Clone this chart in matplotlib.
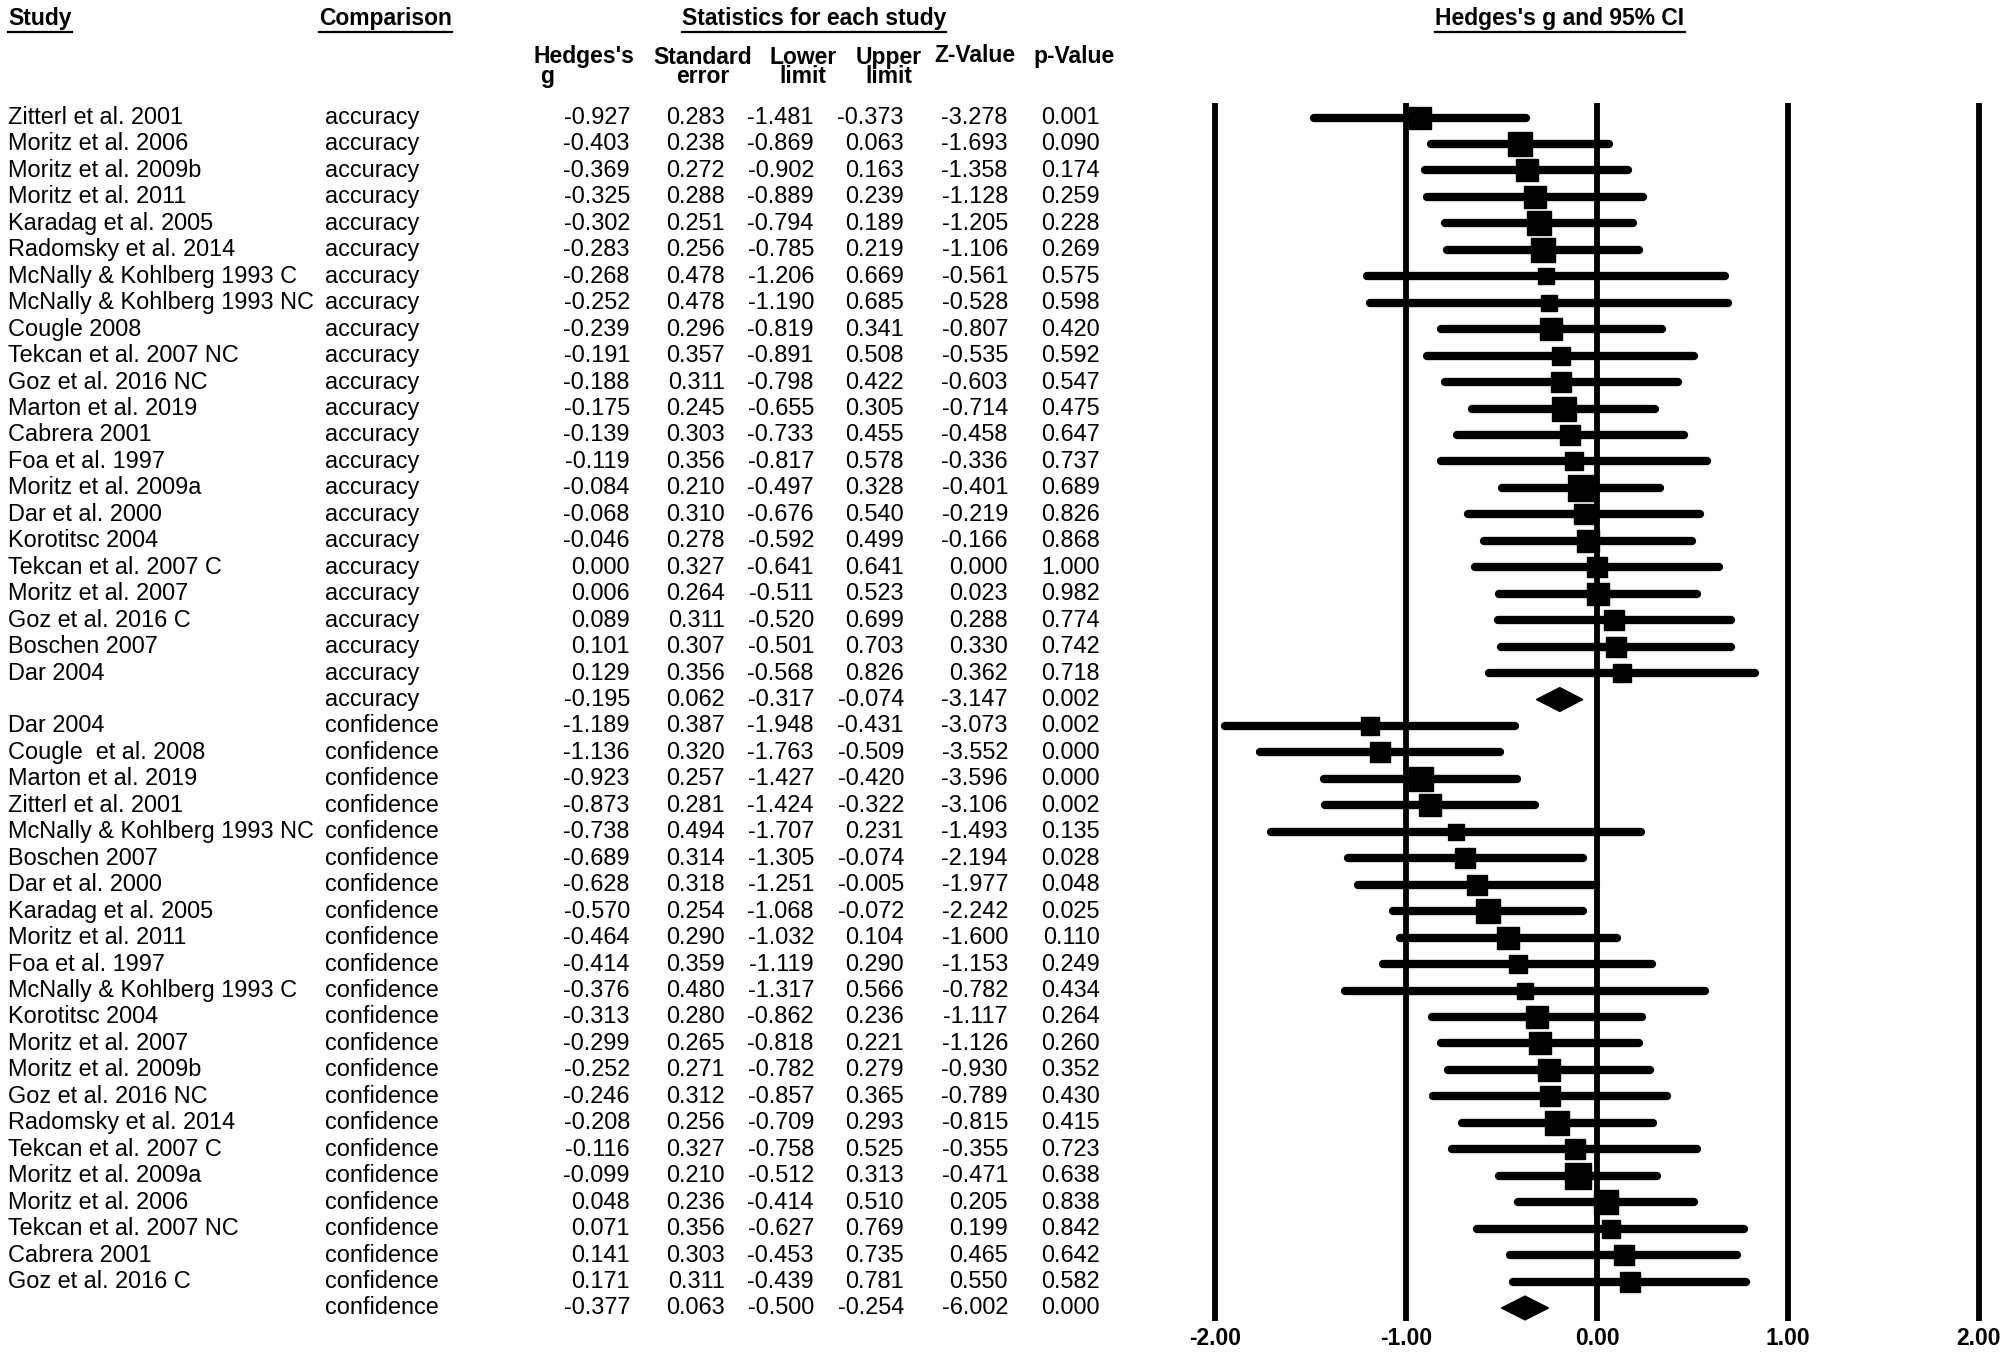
import matplotlib
matplotlib.use("Agg")
import matplotlib.pyplot as plt
from matplotlib import font_manager
from matplotlib.lines import Line2D
from matplotlib.patches import Polygon
from matplotlib.transforms import blended_transform_factory

# ---- data -------------------------------------------------------------
acc_studies = [
    "Zitterl et al. 2001", "Moritz et al. 2006", "Moritz et al. 2009b",
    "Moritz et al. 2011", "Karadag et al. 2005", "Radomsky et al. 2014",
    "McNally & Kohlberg 1993 C", "McNally & Kohlberg 1993 NC", "Cougle 2008",
    "Tekcan et al. 2007 NC", "Goz et al. 2016 NC", "Marton et al. 2019",
    "Cabrera 2001", "Foa et al. 1997", "Moritz et al. 2009a", "Dar et al. 2000",
    "Korotitsc 2004", "Tekcan et al. 2007 C", "Moritz et al. 2007",
    "Goz et al. 2016 C", "Boschen 2007", "Dar 2004",
]
acc_g = [-0.927, -0.403, -0.369, -0.325, -0.302, -0.283, -0.268, -0.252, -0.239,
         -0.191, -0.188, -0.175, -0.139, -0.119, -0.084, -0.068, -0.046, 0.000,
         0.006, 0.089, 0.101, 0.129]
acc_se = [0.283, 0.238, 0.272, 0.288, 0.251, 0.256, 0.478, 0.478, 0.296, 0.357,
          0.311, 0.245, 0.303, 0.356, 0.210, 0.310, 0.278, 0.327, 0.264, 0.311,
          0.307, 0.356]
acc_lo = [-1.481, -0.869, -0.902, -0.889, -0.794, -0.785, -1.206, -1.190, -0.819,
          -0.891, -0.798, -0.655, -0.733, -0.817, -0.497, -0.676, -0.592, -0.641,
          -0.511, -0.520, -0.501, -0.568]
acc_hi = [-0.373, 0.063, 0.163, 0.239, 0.189, 0.219, 0.669, 0.685, 0.341, 0.508,
          0.422, 0.305, 0.455, 0.578, 0.328, 0.540, 0.499, 0.641, 0.523, 0.699,
          0.703, 0.826]
acc_z = [-3.278, -1.693, -1.358, -1.128, -1.205, -1.106, -0.561, -0.528, -0.807,
         -0.535, -0.603, -0.714, -0.458, -0.336, -0.401, -0.219, -0.166, 0.000,
         0.023, 0.288, 0.330, 0.362]
acc_p = [0.001, 0.090, 0.174, 0.259, 0.228, 0.269, 0.575, 0.598, 0.420, 0.592,
         0.547, 0.475, 0.647, 0.737, 0.689, 0.826, 0.868, 1.000, 0.982, 0.774,
         0.742, 0.718]
acc_summary = [-0.195, 0.062, -0.317, -0.074, -3.147, 0.002]

conf_studies = [
    "Dar 2004", "Cougle  et al. 2008", "Marton et al. 2019", "Zitterl et al. 2001",
    "McNally & Kohlberg 1993 NC", "Boschen 2007", "Dar et al. 2000",
    "Karadag et al. 2005", "Moritz et al. 2011", "Foa et al. 1997",
    "McNally & Kohlberg 1993 C", "Korotitsc 2004", "Moritz et al. 2007",
    "Moritz et al. 2009b", "Goz et al. 2016 NC", "Radomsky et al. 2014",
    "Tekcan et al. 2007 C", "Moritz et al. 2009a", "Moritz et al. 2006",
    "Tekcan et al. 2007 NC", "Cabrera 2001", "Goz et al. 2016 C",
]
conf_g = [-1.189, -1.136, -0.923, -0.873, -0.738, -0.689, -0.628, -0.570, -0.464,
          -0.414, -0.376, -0.313, -0.299, -0.252, -0.246, -0.208, -0.116, -0.099,
          0.048, 0.071, 0.141, 0.171]
conf_se = [0.387, 0.320, 0.257, 0.281, 0.494, 0.314, 0.318, 0.254, 0.290, 0.359,
           0.480, 0.280, 0.265, 0.271, 0.312, 0.256, 0.327, 0.210, 0.236, 0.356,
           0.303, 0.311]
conf_lo = [-1.948, -1.763, -1.427, -1.424, -1.707, -1.305, -1.251, -1.068, -1.032,
           -1.119, -1.317, -0.862, -0.818, -0.782, -0.857, -0.709, -0.758, -0.512,
           -0.414, -0.627, -0.453, -0.439]
conf_hi = [-0.431, -0.509, -0.420, -0.322, 0.231, -0.074, -0.005, -0.072, 0.104,
           0.290, 0.566, 0.236, 0.221, 0.279, 0.365, 0.293, 0.525, 0.313, 0.510,
           0.769, 0.735, 0.781]
conf_z = [-3.073, -3.552, -3.596, -3.106, -1.493, -2.194, -1.977, -2.242, -1.600,
          -1.153, -0.782, -1.117, -1.126, -0.930, -0.789, -0.815, -0.355, -0.471,
          0.205, 0.199, 0.465, 0.550]
conf_p = [0.002, 0.000, 0.000, 0.002, 0.135, 0.028, 0.048, 0.025, 0.110, 0.249,
          0.434, 0.264, 0.260, 0.352, 0.430, 0.415, 0.723, 0.638, 0.838, 0.842,
          0.642, 0.582]
conf_summary = [-0.377, 0.063, -0.500, -0.254, -6.002, 0.000]

x_ticks = [-2.0, -1.0, 0.0, 1.0, 2.0]

# ---- fonts ------------------------------------------------------------
available = {f.name for f in font_manager.fontManager.ttflist}
BODY = "Liberation Sans" if "Liberation Sans" in available else "DejaVu Sans"
HEAD = "Liberation Sans Narrow" if "Liberation Sans Narrow" in available else BODY
BODY_SIZE = 16.9
HEAD_SIZE = 19 if HEAD != BODY else 16.5

W, H = 2008, 1355
fig = plt.figure(figsize=(W / 100, H / 100), dpi=100)


def fx(px):
    return px / W


def fy(py):
    return 1 - py / H


# forest axes: row 0 at y=117.5px, row 45 at y=1308px
row0_px = 117.5
row_px = (1308 - row0_px) / 45
ax_top = row0_px - row_px
ax_bot = row0_px + 46 * row_px
x0_px, unit_px = 1597, 191
xl, xr = -2.12, 2.12
ax = fig.add_axes([fx(x0_px + xl * unit_px), fy(ax_bot),
                   (xr - xl) * unit_px / W, (ax_bot - ax_top) / H])
ax.set_xlim(xl, xr)
ax.set_ylim(46.0, -1.0)
ax.axis("off")

ax.vlines(x_ticks, -0.55, 45.5, color="black", lw=4.2, zorder=1)
for t in x_ticks:
    ax.text(t, 46.15, f"{t:.2f}", ha="center", va="center", fontsize=HEAD_SIZE,
            family=HEAD, fontweight="bold", clip_on=False)

tr = blended_transform_factory(fig.transFigure, ax.transData)

rows = []
for i in range(len(acc_studies)):
    rows.append((acc_studies[i], "accuracy", acc_g[i], acc_se[i], acc_lo[i],
                 acc_hi[i], acc_z[i], acc_p[i], False))
rows.append(("", "accuracy", *acc_summary, True))
for i in range(len(conf_studies)):
    rows.append((conf_studies[i], "confidence", conf_g[i], conf_se[i], conf_lo[i],
                 conf_hi[i], conf_z[i], conf_p[i], False))
rows.append(("", "confidence", *conf_summary, True))

num_right = [630, 725, 814, 904, 1008, 1100]

for r, (name, comp, g, se, lo, hi, z, p, summ) in enumerate(rows):
    kw = dict(transform=tr, va="center", fontsize=BODY_SIZE, family=BODY)
    ax.text(fx(8), r, name, ha="left", **kw)
    ax.text(fx(325), r, comp, ha="left", **kw)
    for xr_px, v in zip(num_right, [g, se, lo, hi, z, p]):
        ax.text(fx(xr_px), r, f"{v:.3f}", ha="right", **kw)
    if summ:
        h = 0.45
        ax.add_patch(Polygon([(lo, r), (g, r - h), (hi, r), (g, r + h)],
                             closed=True, color="black", zorder=3))
    else:
        ax.plot([lo, hi], [r, r], color="black", lw=6, solid_capstyle="round",
                zorder=2)
        side_px = 26 * (0.21 / se) ** 0.6
        ax.plot(g, r, marker="s", color="black", ms=side_px * 0.72, zorder=3)

# ---- headers ----------------------------------------------------------
hkw = dict(family=HEAD, fontweight="bold", fontsize=HEAD_SIZE)
underlined = [
    fig.text(fx(8), fy(18), "Study", ha="left", va="center", **hkw),
    fig.text(fx(319), fy(18), "Comparison", ha="left", va="center", **hkw),
    fig.text(fx(814), fy(18), "Statistics for each study", ha="center",
             va="center", **hkw),
    fig.text(fx(1560), fy(18), "Hedges's g and 95% CI", ha="center",
             va="center", **hkw),
]
fig.text(fx(534), fy(56), "Hedges's", ha="left", va="center", **hkw)
fig.text(fx(540), fy(77), "g", ha="left", va="center", **hkw)
sub = [("Standard\nerror", 703), ("Lower\nlimit", 803), ("Upper\nlimit", 889)]
for txt, xp in sub:
    fig.text(fx(xp), fy(46), txt, ha="center", va="top", linespacing=0.8,
             multialignment="center", **hkw)
fig.text(fx(975), fy(56), "Z-Value", ha="center", va="center", **hkw)
fig.text(fx(1074), fy(56), "p-Value", ha="center", va="center", **hkw)

fig.canvas.draw()
renderer = fig.canvas.get_renderer()
for t in underlined:
    bb = t.get_window_extent(renderer)
    yline = fy(32)
    fig.add_artist(Line2D([bb.x0 / W, bb.x1 / W], [yline, yline],
                          color="black", lw=1.6))

fig.savefig("out.png", dpi=100, facecolor="white")
